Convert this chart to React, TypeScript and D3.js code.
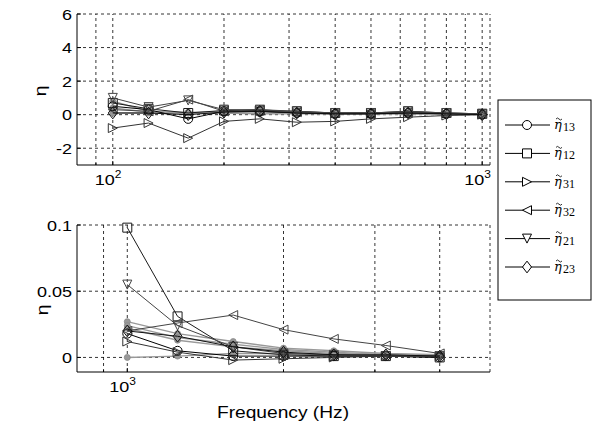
import React from "react";
import * as d3 from "d3";

// frequencies (Hz), third-octave bands
const topFreq = [100, 125, 160, 200, 250, 315, 400, 500, 630, 800, 1000];
const bottomFreq = [1000, 1250, 1600, 2000, 2500, 3150, 4000];

// loss factors, upper panel
const topEta13 = [0.5, 0.3, -0.25, 0.2, 0.2, 0.1, 0.05, 0.05, 0.1, 0.05, 0.0];
const topEta12 = [0.7, 0.35, 0.1, 0.25, 0.25, 0.2, 0.1, 0.1, 0.2, 0.1, 0.05];
const topEta31 = [-0.8, -0.5, -1.4, -0.4, -0.25, -0.45, -0.4, -0.25, -0.15, -0.05, 0.0];
const topEta32 = [0.3, 0.2, 0.9, 0.2, 0.3, 0.15, 0.1, 0.1, 0.15, 0.1, 0.05];
const topEta21 = [1.0, 0.45, 0.85, 0.3, 0.3, 0.2, 0.1, 0.1, 0.2, 0.1, 0.05];
const topEta23 = [0.1, 0.1, 0.0, 0.15, 0.2, 0.1, 0.05, 0.05, 0.1, 0.05, 0.0];
const topGrayA = [0.8, 0.2, 0.1, 0.2, 0.2, 0.15, 0.1, 0.1, 0.1, 0.05, 0.05];
const topGrayB = [0.4, 0.15, 0.15, 0.1, 0.1, 0.1, 0.05, 0.05, 0.05, 0.05, 0.0];
const topGrayC = [0.1, 0.1, 0.1, 0.1, 0.05, 0.05, 0.05, 0.05, 0.05, 0.0, 0.0];

// loss factors, lower panel
const bottomEta13 = [0.018, 0.005, 0.001, 0.001, 0.001, 0.001, 0.0];
const bottomEta12 = [0.098, 0.031, 0.005, 0.002, 0.001, 0.001, 0.0];
const bottomEta31 = [0.012, 0.004, -0.002, -0.001, 0.0, 0.001, 0.001];
const bottomEta32 = [0.02, 0.026, 0.032, 0.021, 0.014, 0.009, 0.003];
const bottomEta21 = [0.055, 0.024, 0.008, 0.003, 0.002, 0.001, 0.001];
const bottomEta23 = [0.02, 0.016, 0.008, 0.004, 0.002, 0.002, 0.001];
const bottomGrayA = [0.027, 0.018, 0.012, 0.007, 0.005, 0.003, 0.002];
const bottomGrayB = [0.024, 0.015, 0.01, 0.006, 0.004, 0.002, 0.001];
const bottomGrayC = [0.0, 0.001, 0.003, 0.003, 0.002, 0.001, 0.001];
const bottomGrayD = [0.022, 0.013, 0.008, 0.005, 0.003, 0.002, 0.001];

const legendKeys = ["13", "12", "31", "32", "21", "23"];

// ticks and grid
const topYTicks = [-2, 0, 2, 4, 6];
const topXGrid = [90, 100, 200, 300, 400, 500, 600, 700, 800, 900, 1000];
const topXLabels = [100, 1000];
const bottomYTicks = [0, 0.05, 0.1];
const bottomYLabels = ["0", "0.05", "0.1"];
const bottomXGrid = [900, 1000, 2000, 3000, 4000];
const bottomXLabels = [1000];

const FONT = "'Liberation Sans', Arial, sans-serif";
const SX = 1.2; // picture is slightly stretched sideways

const series = [
  { key: "13", marker: "circle", color: "#000", top: topEta13, bottom: bottomEta13 },
  { key: "12", marker: "square", color: "#1a1a1a", top: topEta12, bottom: bottomEta12 },
  { key: "31", marker: "right", color: "#333", top: topEta31, bottom: bottomEta31 },
  { key: "32", marker: "left", color: "#444", top: topEta32, bottom: bottomEta32 },
  { key: "21", marker: "down", color: "#444", top: topEta21, bottom: bottomEta21 },
  { key: "23", marker: "diamond", color: "#111", top: topEta23, bottom: bottomEta23 },
];
const grayTop = [topGrayA, topGrayB, topGrayC];
const grayBottom = [bottomGrayA, bottomGrayB, bottomGrayC, bottomGrayD];

const markerPath = (type: string, s = 4.5) => {
  switch (type) {
    case "circle":
      return `M${-s},0a${s},${s} 0 1,0 ${2 * s},0a${s},${s} 0 1,0 ${-2 * s},0`;
    case "square":
      return `M${-s},${-s}h${2 * s}v${2 * s}h${-2 * s}Z`;
    case "right":
      return `M${-s},${-s}L${s},0L${-s},${s}Z`;
    case "left":
      return `M${s},${-s}L${-s},0L${s},${s}Z`;
    case "down":
      return `M${-s},${-s}L${s},${-s}L0,${s}Z`;
    default:
      return `M0,${-s * 1.3}L${s},0L0,${s * 1.3}L${-s},0Z`;
  }
};

const Txt = ({ x, y, anchor = "start", size = 15, rotate = 0, children }: any) => (
  <g transform={`translate(${x},${y}) rotate(${rotate}) scale(${SX},1)`}>
    <text x={0} y={0} textAnchor={anchor} fontFamily={FONT} fontSize={size} fill="#000">
      {children}
    </text>
  </g>
);

const Panel = ({ x, y, freq, main, gray, yTicks, yLabels, xGrid, xLabels, minorTicks }: any) => {
  const [x0, x1] = x.range();
  const [y0, y1] = y.range();
  const line = d3
    .line<number>()
    .x((_, i) => x(freq[i]))
    .y((d) => y(d));

  return (
    <g>
      {/* grid */}
      {xGrid.map((g: number) => (
        <line key={"gx" + g} x1={x(g)} x2={x(g)} y1={y0} y2={y1} stroke="#000" strokeWidth={0.8} strokeDasharray="3,3" />
      ))}
      <line x1={x1} x2={x1} y1={y0} y2={y1} stroke="#000" strokeWidth={0.8} strokeDasharray="3,3" />
      {yTicks.map((t: number) => (
        <line key={"gy" + t} x1={x0} x2={x1} y1={y(t)} y2={y(t)} stroke="#000" strokeWidth={0.8} strokeDasharray="3,3" />
      ))}

      {/* gray series */}
      {gray.map((vals: number[], i: number) => (
        <g key={"g" + i}>
          <path d={line(vals) || ""} fill="none" stroke="#999" strokeWidth={1.4} />
          {vals.map((v, j) => (
            <circle key={j} cx={x(freq[j])} cy={y(v)} r={3} fill="#999" stroke="#888" strokeWidth={0.8} />
          ))}
        </g>
      ))}

      {/* measured series */}
      {main.map((s: any) => (
        <g key={s.key}>
          <path d={line(s.vals) || ""} fill="none" stroke={s.color} strokeWidth={1} />
          {s.vals.map((v: number, j: number) => (
            <path
              key={j}
              d={markerPath(s.marker)}
              transform={`translate(${x(freq[j])},${y(v)})`}
              fill="none"
              stroke={s.color}
              strokeWidth={1}
            />
          ))}
        </g>
      ))}

      {/* axes */}
      <line x1={x0} x2={x0} y1={y0} y2={y1} stroke="#000" strokeWidth={1} />
      <line x1={x0} x2={x1} y1={y0} y2={y0} stroke="#000" strokeWidth={1} />
      {yTicks.map((t: number) => (
        <line key={"ty" + t} x1={x0} x2={x0 + 4} y1={y(t)} y2={y(t)} stroke="#000" />
      ))}
      {minorTicks.map((t: number) => (
        <line key={"tx" + t} x1={x(t)} x2={x(t)} y1={y0} y2={y0 - (xLabels.includes(t) ? 4 : 2)} stroke="#000" />
      ))}
      {yTicks.map((t: number, i: number) => (
        <Txt key={"ly" + t} x={x0 - 5} y={y(t) + 5.5} anchor="end">
          {yLabels[i]}
        </Txt>
      ))}
      {xLabels.map((t: number) => {
        const exp = Math.round(Math.log10(t));
        return (
          <g key={"lx" + t}>
            <Txt x={x(t) + 2} y={y0 + 20} anchor="end">
              10
            </Txt>
            <Txt x={x(t) + 2} y={y0 + 13} size={10}>
              {String(exp)}
            </Txt>
          </g>
        );
      })}
    </g>
  );
};

export default function App() {
  const W = 593;
  const H = 426;

  const xTop = d3.scaleLog().domain([80, 1050]).range([77, 490]);
  const yTop = d3.scaleLinear().domain([-3, 6]).range([165, 14]);
  const xBot = d3.scaleLog().domain([800, 5000]).range([77, 490]);
  const yBot = d3.scaleLinear().domain([-0.011, 0.1]).range([372, 225]);

  const topMain = series.map((s) => ({ ...s, vals: s.top }));
  const botMain = series.map((s) => ({ ...s, vals: s.bottom }));

  const legendY = d3.scalePoint<string>().domain(legendKeys).range([125, 267]);

  return (
    <svg
      width={W}
      height={H}
      style={{ position: "fixed", left: 0, top: 0, background: "#fff" }}
    >
      <rect width={W} height={H} fill="#fff" />
      <Panel
        x={xTop}
        y={yTop}
        freq={topFreq}
        main={topMain}
        gray={grayTop}
        yTicks={topYTicks}
        yLabels={topYTicks.map(String)}
        xGrid={topXGrid}
        xLabels={topXLabels}
        minorTicks={topXGrid}
      />
      <Panel
        x={xBot}
        y={yBot}
        freq={bottomFreq}
        main={botMain}
        gray={grayBottom}
        yTicks={bottomYTicks}
        yLabels={bottomYLabels}
        xGrid={bottomXGrid}
        xLabels={bottomXLabels}
        minorTicks={bottomXGrid}
      />

      {/* y labels */}
      <Txt x={46} y={91} anchor="middle" size={16} rotate={-90}>
        η
      </Txt>
      <Txt x={48} y={310} anchor="middle" size={16} rotate={-90}>
        η
      </Txt>
      <Txt x={283} y={418} anchor="middle" size={16}>
        Frequency (Hz)
      </Txt>

      {/* legend */}
      <rect x={498} y={100} width={93} height={200} fill="#fff" stroke="#000" strokeWidth={1} />
      {series.map((s) => {
        const ly = legendY(s.key) as number;
        return (
          <g key={"leg" + s.key}>
            <line x1={505} x2={550} y1={ly} y2={ly} stroke="#000" strokeWidth={1} />
            <path d={markerPath(s.marker)} transform={`translate(527,${ly})`} fill="#fff" stroke="#000" />
            <text x={554} y={ly + 4} fontFamily="'DejaVu Serif', serif" fontSize={13} fontStyle="italic">
              η
            </text>
            <path
              d={`M${556},${ly - 6}q1.5,-2 3,0t3,0`}
              fill="none"
              stroke="#000"
              strokeWidth={0.8}
            />
            <text x={563} y={ly + 6} fontFamily="'Liberation Serif', serif" fontSize={12}>
              {s.key}
            </text>
          </g>
        );
      })}
    </svg>
  );
}
